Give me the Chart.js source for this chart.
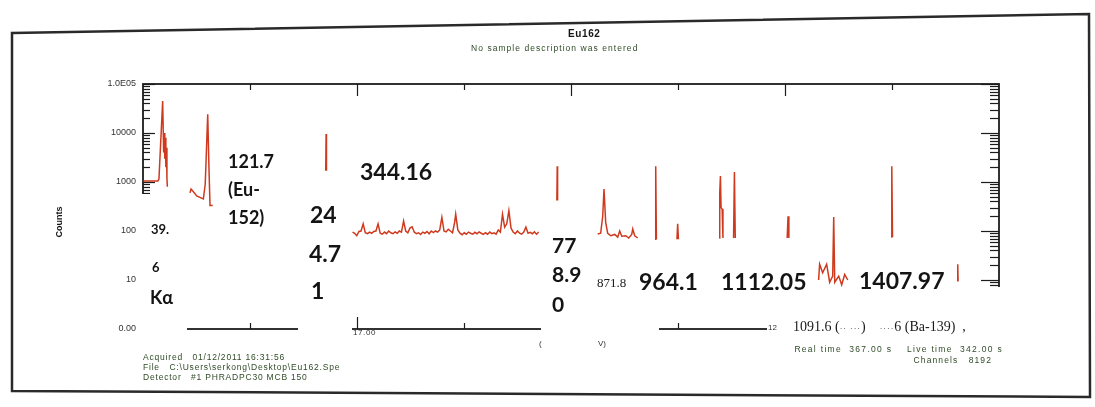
<!DOCTYPE html>
<html><head><meta charset="utf-8">
<script src="https://cdn.jsdelivr.net/npm/chart.js@4.4.1/dist/chart.umd.min.js"></script>
<style>
html,body{margin:0;padding:0;background:#fff;}
#wrap{position:relative;width:1095px;height:407px;overflow:hidden;background:#fff;}
#cw{position:absolute;left:0;top:0;width:1095px;height:407px;}
.box{position:absolute;background:#fff;}
.t{position:absolute;white-space:nowrap;line-height:1;transform:translateY(-50%);}
.b{font-family:Lato,"Open Sans",sans-serif;font-weight:700;color:#141414;}
.s{font-family:"Liberation Serif","DejaVu Serif",serif;color:#1a1a1a;}
.g{font-family:"Liberation Sans",Arial,sans-serif;color:#2f4a26;font-size:8.5px;letter-spacing:0.8px;}
svg{position:absolute;left:0;top:0;}
</style></head>
<body>
<div id="wrap">
  <div id="cw"><canvas id="c"></canvas></div>
  <!-- white pasted boxes covering parts of the printout -->
  <div class="box" style="left:139px;top:194px;width:48px;height:142px"></div>
  <div class="box" style="left:298px;top:176px;width:54px;height:160px"></div>
  <div class="box" style="left:541px;top:205px;width:56px;height:130px"></div>
  <div class="box" style="left:596px;top:300px;width:63px;height:35px"></div>
  <div class="box" style="left:767px;top:287px;width:245px;height:48px"></div>
  <svg width="1095" height="407"><polygon points="12,33 1089,14 1090,397 12,391" fill="none" stroke="#2a2a2a" stroke-width="2.5"/></svg>

  <div class="t" style="left:568px;top:33px;font:700 10px 'Liberation Sans',Arial,sans-serif;color:#151515;letter-spacing:0.6px">Eu162</div>
  <div class="t g" style="left:471px;top:48px;font-size:8.5px;letter-spacing:1.05px">No sample description was entered</div>
  <div class="t" style="left:43px;top:222px;font:700 9px 'Liberation Sans',Arial,sans-serif;color:#151515;transform:translate(0,-50%) rotate(-90deg);transform-origin:center">Counts</div>

  <div class="t b" style="left:228px;top:161px;font-size:18px">121.7</div>
  <div class="t b" style="left:228px;top:189px;font-size:18px">(Eu-</div>
  <div class="t b" style="left:228px;top:217px;font-size:18px">152)</div>
  <div class="t b" style="left:151px;top:229px;font-size:13px">39.</div>
  <div class="t b" style="left:152px;top:267px;font-size:13px">6</div>
  <div class="t b" style="left:150px;top:297px;font-size:18px">K&alpha;</div>
  <div class="t b" style="left:310px;top:214px;font-size:23px">24</div>
  <div class="t b" style="left:309px;top:253px;font-size:23px">4.7</div>
  <div class="t b" style="left:311px;top:290px;font-size:23px">1</div>
  <div class="t b" style="left:360px;top:171px;font-size:23px">344.16</div>
  <div class="t b" style="left:552px;top:244px;font-size:21px">77</div>
  <div class="t b" style="left:552px;top:273px;font-size:21px">8.9</div>
  <div class="t b" style="left:552px;top:303px;font-size:21px">0</div>
  <div class="t s" style="left:597px;top:282px;font-size:13px">871.8</div>
  <div class="t b" style="left:639px;top:281px;font-size:23px">964.1</div>
  <div class="t b" style="left:721px;top:281px;font-size:23px">1112.05</div>
  <div class="t b" style="left:859px;top:280px;font-size:23px">1407.97</div>
  <div class="t s" style="left:793px;top:327px;font-size:14px">1091.6 (<span style="font-size:8px;letter-spacing:1px">·· ···</span>)&nbsp;&nbsp;&nbsp; <span style="font-size:8px;letter-spacing:1px">····</span>6 (Ba-139)&nbsp;&nbsp;,</div>

  <div class="t" style="left:768px;top:327px;font:8px 'Liberation Sans',Arial,sans-serif;color:#333">12</div>
  <div class="t" style="left:353px;top:332px;font:8px 'Liberation Sans',Arial,sans-serif;color:#333;letter-spacing:0.6px">17.00</div>
  <div class="t" style="left:539px;top:343px;font:8px 'Liberation Sans',Arial,sans-serif;color:#333">(</div>
  <div class="t" style="left:598px;top:343px;font:8px 'Liberation Sans',Arial,sans-serif;color:#333">V)</div>

  <div class="t g" style="left:143px;top:357px">Acquired&nbsp;&nbsp; 01/12/2011 16:31:56</div>
  <div class="t g" style="left:143px;top:367px">File&nbsp;&nbsp; C:\Users\serkong\Desktop\Eu162.Spe</div>
  <div class="t g" style="left:143px;top:377px">Detector&nbsp;&nbsp; #1 PHRADPC30 MCB 150</div>
  <div class="t g" style="right:92px;top:349px;letter-spacing:1.3px">Real time&nbsp; 367.00 s&nbsp;&nbsp;&nbsp; Live time&nbsp; 342.00 s</div>
  <div class="t g" style="right:103px;top:360px;letter-spacing:1.1px">Channels&nbsp;&nbsp; 8192</div>
</div>
<script>
// ---- spectrum pieces: [energy keV, counts] ----
const kAlphaRegion = [[1,1050],[28,1050],[30,1150],[37,45000],[38.8,4000],[39.8,10000],[41,3000],[42,8000],[43,2000],[44,5000],[45,1200],[45.8,800]];
const peak121 = [[88.4,600],[90.3,720],[94,650],[101,520],[108,480],[113.5,450],[117,900],[121.7,24000],[124,2000],[126,330],[131,330]];
const peak344 = [[343.6,1700],[344.3,9500],[345,1700]];
const continuum = [
  [394,95],[398,90],[402,80],[406,98],[410,100],[414,140],[418,92],[422,88],[426,95],[430,90],[434,98],[438,100],[442,140],[446,90],
  [450,86],[454,95],[458,88],[462,100],[466,92],[470,88],[474,96],[478,90],[482,100],[486,95],[490,160],[494,100],[498,92],[502,115],
  [506,122],[510,95],[514,88],[518,92],[522,85],[526,95],[530,90],[534,98],[538,88],[542,100],[546,93],[550,100],[554,95],[558,105],
  [562,190],[566,100],[570,96],[574,108],[578,100],[582,92],[586,150],[588,220],[592,105],[596,90],[600,84],[604,92],[608,86],[612,95],
  [616,90],[620,86],[624,94],[628,88],[632,96],[636,90],[640,85],[644,92],[648,86],[652,95],[656,88],[660,92],[664,86],[668,105],
  [672,95],[676,220],[680,120],[684,140],[688,260],[692,115],[696,95],[700,88],[704,100],[708,90],[712,86],[716,95],[720,120],[724,90],
  [728,94],[732,88],[736,96],[740,86],[744,95]
];
const peak779 = [[778.2,420],[778.9,2100],[779.6,420]];
const peak867 = [[855,87],[860.6,90],[864.4,200],[866.9,720],[870,150],[873.8,90],[879.5,80],[887,85],[892.6,75],[896.4,100],[900.2,78],[907.7,80],[913.3,72],[919,85],[920.9,110],[924.6,80],[930.3,72]];
const peak964 = [[962.8,68],[964.1,2100],[965.4,68]];
const peak1005 = [[1004,68],[1005.4,140],[1006.8,68]];
const peak1086 = [[1083.5,72],[1084.5,600],[1085.8,1320],[1087,300],[1089,280],[1090.5,72]];
const peak1112 = [[1110.5,72],[1112.1,1600],[1113.7,72]];
const peak1213 = [[1211.3,72],[1212.9,200],[1214.5,72]];
const peak1299 = [[1270.4,10],[1272.3,21],[1278,14],[1285.5,21],[1291.2,9],[1296.9,12],[1298.8,194],[1300.7,9],[1308.2,12],[1313.8,8],[1319.5,13],[1325.2,10]];
const peak1408 = [[1406.6,75],[1408,2100],[1409.4,75]];
const peak1528 = [[1531.3,9.5],[1532,21],[1532.7,9.5]];
const visiblePieces = [kAlphaRegion, peak121, peak344, continuum, peak779, peak867, peak964, peak1005, peak1086, peak1112, peak1213, peak1299, peak1408, peak1528];

const yTickValues = [1, 10, 100, 1000, 10000, 100000];
const yTickLabels = ['0.00', '10', '100', '1000', '10000', '1.0E05'];
const xMaxKeV = 1609.6;
const xMajorDivisions = 8;

// join pieces, leaving a gap (null) where the printout is hidden
const points = [];
visiblePieces.forEach((piece, k) => {
  if (k > 0) points.push({ x: (points[points.length - 1].x + piece[0][0]) / 2, y: null });
  piece.forEach(([e, c]) => points.push({ x: e, y: c }));
});

const framePlugin = {
  id: 'frame',
  beforeDatasetsDraw(chart) {
    const { ctx, chartArea: a, scales: { x, y } } = chart;
    ctx.save();
    ctx.strokeStyle = '#1c1c1c';
    ctx.lineWidth = 1.8;
    ctx.strokeRect(a.left, a.top, a.right - a.left, a.bottom - a.top);
    ctx.lineWidth = 1.2;
    const seg = (x1, y1, x2, y2) => { ctx.beginPath(); ctx.moveTo(x1, y1); ctx.lineTo(x2, y2); ctx.stroke(); };
    for (let d = 1; d <= 1e5; d *= 10) {
      for (let m = 1; m <= 9; m++) {
        const v = d * m;
        if (v > 1e5) break;
        const py = Math.round(y.getPixelForValue(v)) + 0.5;
        seg(a.left, py, a.left + (m === 1 ? 12 : 7), py);
        seg(a.right, py, a.right - (m === 1 ? 18 : 9), py);
      }
    }
    for (let i = 1; i < xMajorDivisions; i++) {
      const px = Math.round(x.getPixelForValue(i * xMaxKeV / xMajorDivisions)) + 0.5;
      const L = i % 2 === 0 ? 12 : 6;
      seg(px, a.top, px, a.top + L);
      seg(px, a.bottom, px, a.bottom - L);
    }
    ctx.restore();
  }
};

new Chart(document.getElementById('c'), {
  type: 'line',
  data: { datasets: [{
    data: points,
    borderColor: '#cf3a1e',
    borderWidth: 1.5,
    pointRadius: 0,
    tension: 0,
    spanGaps: false,
    fill: false
  }]},
  options: {
    responsive: true,
    maintainAspectRatio: false,
    animation: false,
    layout: { padding: { top: 84, right: 96, bottom: 78, left: 0 } },
    plugins: { legend: { display: false }, tooltip: { enabled: false }, title: { display: false } },
    scales: {
      x: { type: 'linear', min: 0, max: xMaxKeV, display: false },
      y: {
        type: 'logarithmic', min: 1, max: 100000,
        grid: { display: false, drawTicks: false },
        border: { display: false },
        afterBuildTicks: (s) => { s.ticks = yTickValues.map(v => ({ value: v })); },
        afterFit: (s) => { s.width = 143; },
        ticks: {
          padding: 7,
          color: '#333',
          font: { family: 'Liberation Sans', size: 9 },
          callback: (v, i) => yTickLabels[i]
        }
      }
    }
  },
  plugins: [framePlugin]
});
</script>
</body></html>
